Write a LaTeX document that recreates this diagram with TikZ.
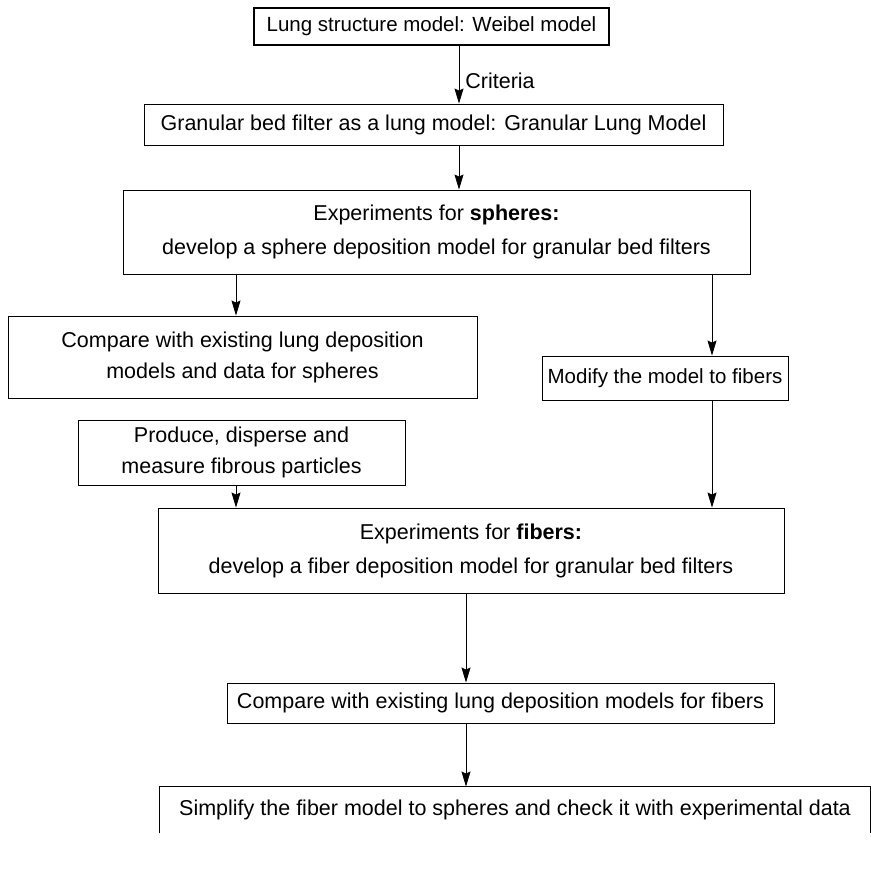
\documentclass[tikz,border=0pt]{standalone}
\usepackage{fontspec}
\setmainfont{Liberation Sans}
\usetikzlibrary{arrows.meta,positioning}

\begin{document}
\begin{tikzpicture}[
  x=1pt, y=-1pt,
  >={Stealth[length=15pt,width=9pt,inset=2pt]},
  blk/.style={draw, line width=0.9pt, inner sep=0pt, align=center,
    font=\fontsize{21.5}{31}\selectfont},
  wide/.style={font=\fontsize{21.5}{34}\selectfont},
  small/.style={font=\fontsize{20.5}{25}\selectfont},
  lbl/.style={font=\fontsize{21.5}{26}\selectfont, inner sep=6pt},
  arr/.style={->, line width=0.8pt}
]
\useasboundingbox (0,0) rectangle (871,870);

\node[blk, small, line width=2pt, minimum width=355pt, minimum height=37pt]
  (weibel) at (431.5,26.5) {Lung structure model: Weibel model};
\node[blk, minimum width=579pt, minimum height=41pt]
  (granular) at (433.5,124.5) {Granular bed filter as a lung model: Granular Lung Model};
\node[blk, wide, minimum width=627pt, minimum height=84pt]
  (spheres) at (436.5,232) {Experiments for \textbf{spheres:}\\
  develop a sphere deposition model for granular bed filters};
\node[blk, minimum width=469pt, minimum height=82pt]
  (cmpsph) at (242.5,357) {Compare with existing lung deposition\\
  models and data for spheres};
\node[blk, small, minimum width=246pt, minimum height=44pt]
  (modify) at (665,378) {Modify the model to fibers};
\node[blk, minimum width=327pt, minimum height=65pt]
  (produce) at (241.5,452.5) {Produce, disperse and\\ measure fibrous particles};
\node[blk, wide, minimum width=626pt, minimum height=85pt]
  (fibers) at (471,550.5) {Experiments for \textbf{fibers:}\\
  develop a fiber deposition model for granular bed filters};
\node[blk, minimum width=547pt, minimum height=40pt]
  (cmpfib) at (500.5,703) {Compare with existing lung deposition models for fibers};
\node[blk, draw=none, minimum width=710pt, minimum height=46pt]
  (simplify) at (515,810) {Simplify the fiber model to spheres and check it with experimental data};
% last box is open at the bottom
\draw[line width=0.9pt] (simplify.south west) -- (simplify.north west)
  -- (simplify.north east) -- (simplify.south east);

\coordinate (cx) at ([xshift=27.5pt]weibel.south);
\coordinate (lx) at ([xshift=-6.5pt]cmpsph.north);
\coordinate (rx) at ([xshift=47pt]modify.north);
\coordinate (bx) at ([xshift=-34.5pt]cmpfib.north);

% main chain
\draw[arr] (cx) -- node[lbl, right, pos=0.6] (crit) {Criteria} (cx |- granular.north);
\draw[arr] (cx |- granular.south) -- (cx |- spheres.north);
\draw[arr] (lx |- spheres.south) -- (lx);
\draw[arr] (rx |- spheres.south) -- (rx);

% fibers
\draw[arr] (lx |- produce.south) -- (lx |- fibers.north);
\draw[arr] (rx |- modify.south) -- (rx |- fibers.north);
\draw[arr] (bx |- fibers.south) -- (bx);
\draw[arr] (bx |- cmpfib.south) -- (bx |- simplify.north);
\end{tikzpicture}
\end{document}
